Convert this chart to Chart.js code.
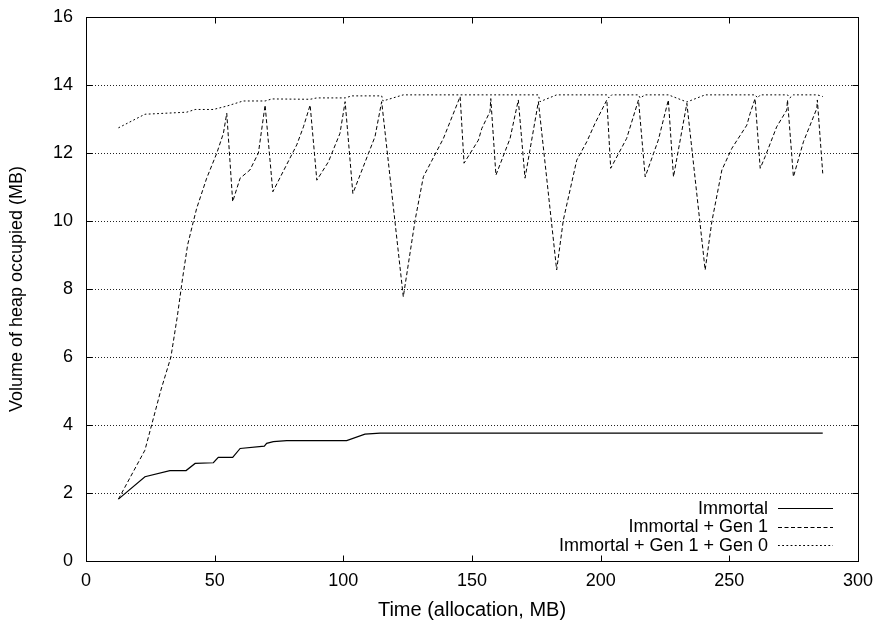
<!DOCTYPE html>
<html>
<head>
<meta charset="utf-8">
<script src="https://cdn.jsdelivr.net/npm/chart.js@4/dist/chart.umd.min.js"></script>
<style>
  html, body { margin: 0; padding: 0; background: #fff; }
  #wrap { width: 884px; height: 625px; }
</style>
</head>
<body>
<div id="wrap"><canvas id="c" width="884" height="625"></canvas></div>
<script>
// ---- data ----
const seriesNames = ["Immortal", "Immortal + Gen 1", "Immortal + Gen 1 + Gen 0"];

const immortalX = [12.6, 22.9, 32.6, 38.9, 42.4, 49.5, 51.4, 57.0, 59.9, 69.3, 70.2, 72.8, 78.0, 101.3, 108.4, 114.3, 286.3];
const immortalY = [1.82, 2.48, 2.66, 2.66, 2.87, 2.89, 3.05, 3.05, 3.31, 3.38, 3.46, 3.51, 3.54, 3.54, 3.73, 3.76, 3.76];

const gen1X = [12.6, 22.9, 25.5, 29.0, 33.0, 35.5, 37.5, 39.5, 41.7, 43.0, 46.9, 50.8, 53.4, 54.7,
  57.0, 59.9, 63.7, 67.0, 69.6, 72.6, 81.9, 84.5, 87.1, 89.7, 94.2, 98.7, 100.7, 103.7, 112.3, 114.9,
  123.3, 127.9, 131.1, 138.9, 145.4, 146.9, 152.5, 153.8, 157.0, 157.3, 159.3, 164.8, 168.0, 170.6, 175.8,
  182.9, 185.5, 190.7, 194.6, 197.8, 202.4, 203.9, 210.1, 214.7, 217.3, 222.4, 226.3, 228.3, 233.5,
  240.6, 243.2, 247.1, 251.0, 256.8, 258.1, 260.0, 262.0, 263.9, 268.4, 272.3, 272.6, 274.9, 278.8, 281.4, 284.0, 284.2, 286.3];
const gen1Y = [1.82, 3.26, 4.0, 5.0, 6.0, 7.2, 8.3, 9.3, 9.98, 10.37, 11.26, 11.99, 12.58, 13.17,
  10.57, 11.26, 11.5, 12.0, 13.41, 10.86, 12.24, 12.77, 13.41, 11.2, 11.74, 12.58, 13.51, 10.81, 12.48, 13.51,
  7.77, 10.03, 11.3, 12.43, 13.66, 11.7, 12.38, 12.72, 13.22, 13.6, 11.35, 12.43, 13.56, 11.26, 13.51,
  8.56, 10.03, 11.79, 12.33, 12.87, 13.56, 11.55, 12.43, 13.56, 11.3, 12.38, 13.56, 11.3, 13.46,
  8.56, 9.98, 11.5, 12.14, 12.82, 13.17, 13.6, 11.55, 11.89, 12.77, 13.26, 13.56, 11.3, 12.33, 12.82, 13.31, 13.56, 11.4];

const gen0X = [12.6, 22.9, 39.1, 42.4, 49.5, 54.7, 61.1, 69.6, 72.2, 87.1, 89.7, 100.7, 103.3, 114.9, 115.4, 123.3,
  145.4, 157.3, 175.8, 176.4, 182.9, 202.4, 203.2, 204.3, 214.7, 215.3, 217.3, 226.3, 233.5, 240.6,
  260.0, 261.0, 262.0, 272.6, 273.5, 274.9, 284.2, 286.3];
const gen0Y = [12.74, 13.14, 13.2, 13.28, 13.28, 13.38, 13.53, 13.53, 13.59, 13.58, 13.62, 13.62, 13.68, 13.68, 13.53, 13.71,
  13.71, 13.71, 13.71, 13.51, 13.71, 13.71, 13.62, 13.71, 13.71, 13.62, 13.71, 13.71, 13.5, 13.71,
  13.71, 13.62, 13.71, 13.71, 13.62, 13.71, 13.71, 13.66];

const xTickValues = [0, 50, 100, 150, 200, 250, 300];
const yTickValues = [0, 2, 4, 6, 8, 10, 12, 14, 16];
const xTitle = "Time (allocation, MB)";
const yTitle = "Volume of heap occupied (MB)";

// ---- build chart ----
const FONT = "'Liberation Sans', Arial, Helvetica, sans-serif";
const pts = (xs, ys) => xs.map((x, i) => ({ x: x, y: ys[i] }));

const framePlugin = {
  id: 'gnuplotFrame',
  beforeDatasetsDraw(chart) {
    const { ctx, chartArea: a, scales } = chart;
    ctx.save();
    ctx.strokeStyle = '#222';
    ctx.lineWidth = 1;
    ctx.setLineDash([1, 2]);
    yTickValues.forEach(v => {
      if (v === scales.y.min || v === scales.y.max) return;
      const y = Math.round(scales.y.getPixelForValue(v)) + 0.5;
      ctx.beginPath();
      ctx.moveTo(a.left, y);
      ctx.lineTo(a.right, y);
      ctx.stroke();
    });
    ctx.restore();
  },
  afterDraw(chart) {
    const { ctx, chartArea: a, scales } = chart;
    ctx.save();
    ctx.strokeStyle = '#000';
    ctx.lineWidth = 1;
    ctx.setLineDash([]);
    const L = Math.round(a.left) + 0.5, R = Math.round(a.right) + 0.5;
    const T = Math.round(a.top) + 0.5, B = Math.round(a.bottom) + 0.5;
    ctx.strokeRect(L, T, R - L, B - T);
    const tl = 6;
    ctx.beginPath();
    yTickValues.forEach(v => {
      const y = Math.round(scales.y.getPixelForValue(v)) + 0.5;
      ctx.moveTo(L, y); ctx.lineTo(L + tl, y);
      ctx.moveTo(R, y); ctx.lineTo(R - tl, y);
    });
    xTickValues.forEach(v => {
      const x = Math.round(scales.x.getPixelForValue(v)) + 0.5;
      ctx.moveTo(x, B); ctx.lineTo(x, B - tl);
      ctx.moveTo(x, T); ctx.lineTo(x, T + tl);
    });
    ctx.stroke();

    // legend (gnuplot style: right-aligned text, sample line on the right)
    const textRight = 768, lineL = 778, lineR = 833;
    const rows = [508, 526.5, 545];
    ctx.font = '18px ' + FONT;
    ctx.fillStyle = '#000';
    ctx.textAlign = 'right';
    ctx.textBaseline = 'middle';
    chart.data.datasets.forEach((ds, i) => {
      const y = rows[i];
      ctx.fillText(ds.label, textRight, y + 1);
      ctx.setLineDash(ds.borderDash || []);
      ctx.strokeStyle = ds.borderColor;
      ctx.lineWidth = ds.borderWidth;
      ctx.beginPath();
      ctx.moveTo(lineL, Math.round(y) + 0.5);
      ctx.lineTo(lineR, Math.round(y) + 0.5);
      ctx.stroke();
    });
    ctx.restore();
  }
};

new Chart(document.getElementById('c'), {
  type: 'line',
  data: {
    datasets: [
      { label: seriesNames[0], data: pts(immortalX, immortalY), borderColor: '#000', borderWidth: 1.2, borderDash: [], pointRadius: 0, tension: 0, fill: false },
      { label: seriesNames[1], data: pts(gen1X, gen1Y), borderColor: '#000', borderWidth: 1, borderDash: [4, 2.5], pointRadius: 0, tension: 0, fill: false },
      { label: seriesNames[2], data: pts(gen0X, gen0Y), borderColor: '#000', borderWidth: 1, borderDash: [1.8, 2.4], pointRadius: 0, tension: 0, fill: false }
    ]
  },
  options: {
    responsive: false,
    animation: false,
    layout: { padding: { top: 17, right: 26, left: 0, bottom: 0 } },
    plugins: { legend: { display: false }, tooltip: { enabled: false } },
    scales: {
      x: {
        type: 'linear', min: 0, max: 300,
        afterBuildTicks: s => { s.ticks = xTickValues.map(v => ({ value: v })); },
        afterFit: s => { s.height = 64; s.paddingLeft = 0; s.paddingRight = 0; },
        ticks: { color: '#000', font: { family: FONT, size: 18 }, padding: 9, maxRotation: 0, autoSkip: false },
        grid: { display: false, drawTicks: false },
        border: { display: false },
        title: { display: true, text: xTitle, color: '#000', font: { family: FONT, size: 20 }, padding: { top: 0, bottom: 3 } }
      },
      y: {
        type: 'linear', min: 0, max: 16,
        afterBuildTicks: s => { s.ticks = yTickValues.map(v => ({ value: v })); },
        afterFit: s => { s.width = 86; s.paddingTop = 0; s.paddingBottom = 0; },
        ticks: { color: '#000', font: { family: FONT, size: 18 }, padding: 13, autoSkip: false },
        grid: { display: false, drawTicks: false },
        border: { display: false },
        title: { display: true, text: yTitle, color: '#000', font: { family: FONT, size: 18 }, padding: { top: 6, bottom: 0 } }
      }
    }
  },
  plugins: [framePlugin]
});
</script>
</body>
</html>
